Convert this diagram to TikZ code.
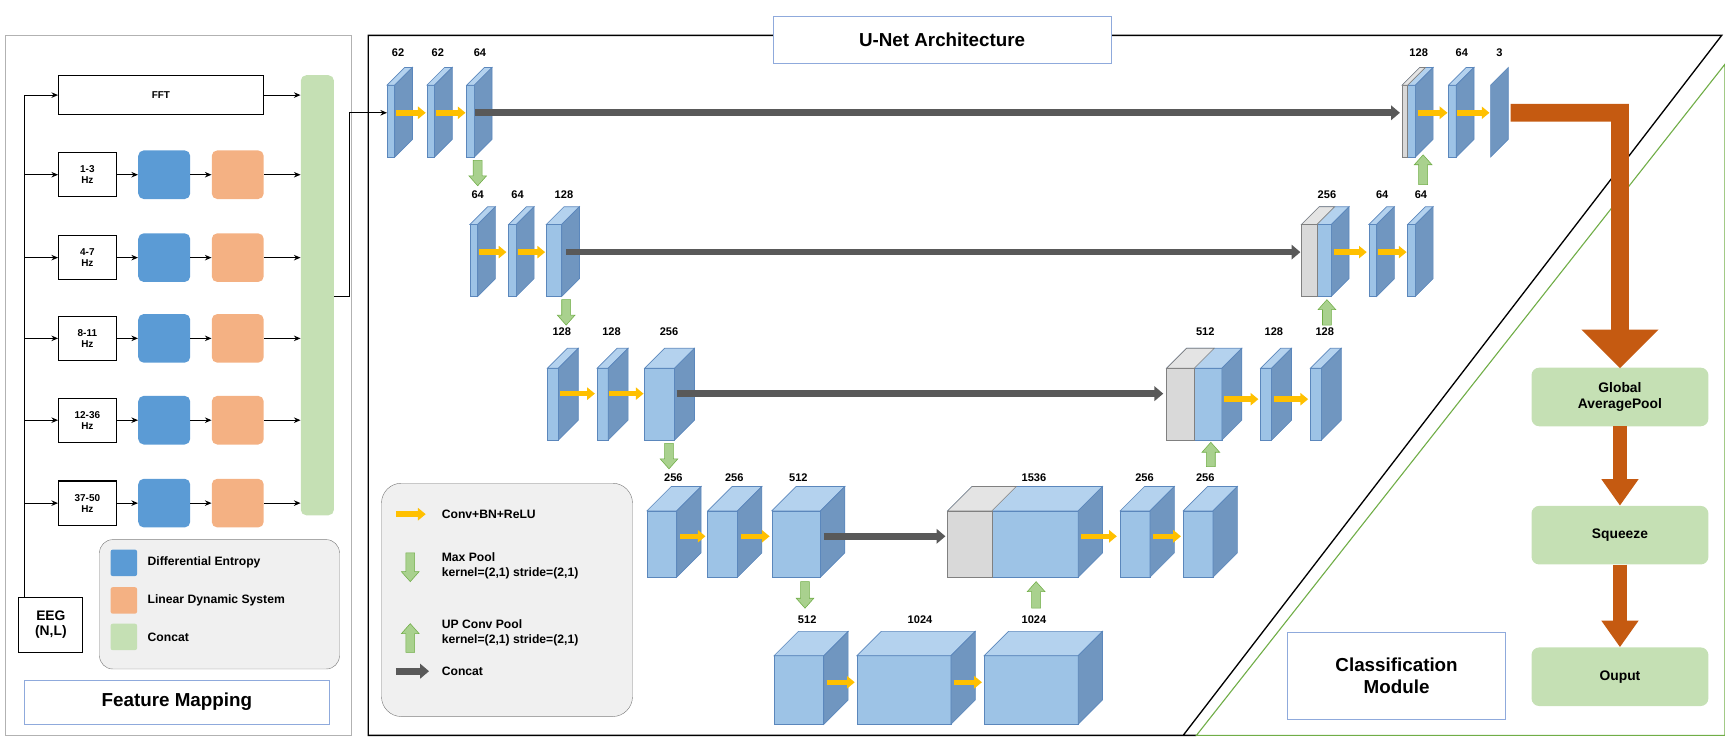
\documentclass[tikz,border=0pt]{standalone}
\usepackage{fontspec}
\setmainfont{Liberation Sans}
\usetikzlibrary{arrows.meta}
\definecolor{fb}{HTML}{9DC3E6}
\definecolor{tb}{HTML}{B4D2EE}
\definecolor{sb}{HTML}{7096C0}
\definecolor{eb}{HTML}{5B87BC}
\definecolor{gr}{HTML}{D9D9D9}
\definecolor{de}{HTML}{5B9BD5}
\definecolor{ld}{HTML}{F4B183}
\definecolor{cg}{HTML}{C5E0B4}
\definecolor{ga}{HTML}{A9D18E}
\definecolor{gae}{HTML}{70AD47}
\definecolor{ye}{HTML}{FFC000}
\definecolor{og}{HTML}{C55A11}
\definecolor{dg}{HTML}{595959}
\definecolor{tbc}{HTML}{8FAADC}
\newcommand\blk[6]{%
 \filldraw[fill=fb,draw=eb,line width=0.6pt] (#1,#2) rectangle ({#1+#3},{#2+#4});
 \filldraw[fill=tb,draw=eb,line width=0.6pt] (#1,#2) -- ++(#5,-#5) -- ++(#3,0) -- ++(-#5,#5) -- cycle;
 \filldraw[fill=sb,draw=eb,line width=0.6pt] ({#1+#3},#2) -- ++(#5,-#5) -- ++(0,#4) -- ++(-#5,#5) -- cycle;
 \ifdim #6pt>0pt
 \filldraw[fill=gr,draw=gray,line width=0.6pt] (#1,#2) rectangle ({#1+#6},{#2+#4});
 \filldraw[fill=gr!70,draw=gray,line width=0.6pt] (#1,#2) -- ++(#5,-#5) -- ++(#6,0) -- ++(-#5,#5) -- cycle;
 \fi}
\newcommand\yarr[3]{\draw[ye,line width=5pt,-{Triangle[length=7pt,width=11pt]}] (#1,#3) -- (#2,#3);}
\newcommand\carr[3]{\draw[dg,line width=6pt,-{Triangle[length=8pt,width=13pt]}] (#1,#3) -- (#2,#3);}
\newcommand\gdn[3]{\filldraw[fill=ga,draw=gae,line width=0.5pt] ({#1-4},#2) -- ({#1+4},#2) -- ({#1+4},{#3-9}) -- ({#1+8},{#3-9}) -- (#1,#3) -- ({#1-8},{#3-9}) -- ({#1-4},{#3-9}) -- cycle;}
\newcommand\gup[3]{\filldraw[fill=ga,draw=gae,line width=0.5pt] ({#1-4},#2) -- ({#1+4},#2) -- ({#1+4},{#3+9}) -- ({#1+8},{#3+9}) -- (#1,#3) -- ({#1-8},{#3+9}) -- ({#1-4},{#3+9}) -- cycle;}
\begin{document}
\begin{tikzpicture}[x=1pt,y=-1pt,
 lab/.style={font=\bfseries\fontsize{10}{11}\selectfont},
 box/.style={draw,line width=1pt,fill=white,font=\bfseries\fontsize{9}{10}\selectfont,align=center,inner sep=0pt},
 rb/.style={rounded corners=5pt,minimum width=47pt,minimum height=44pt,inner sep=0pt},
 ar/.style={-{Stealth[length=6pt,width=5pt]},line width=1pt},
 cls/.style={fill=cg,rounded corners=7pt,minimum width=160pt,minimum height=53pt,align=center,font=\bfseries\fontsize{12.5}{14}\selectfont},
 lt/.style={anchor=west,align=left,font=\bfseries\fontsize{11}{13.5}\selectfont},
 title/.style={draw=tbc,fill=white,font=\bfseries\fontsize{17}{20}\selectfont,align=center,inner sep=0pt}]
\useasboundingbox (0,0) rectangle (1560,668);
% ---------- Feature mapping ----------
\draw[gray!60,line width=1.2pt] (5,32) rectangle (318,665);
\node[title,minimum width=276pt,minimum height=40pt] (fmt) at (160,635) {Feature Mapping};
\node[box,minimum width=185pt,minimum height=35pt] (fft) at (145.5,86) {FFT};
\node[fill=cg,rounded corners=5pt,minimum width=30pt,minimum height=398pt,inner sep=0pt] (cat) at (287,267) {};
\node[box,minimum width=58pt,minimum height=50pt,font=\bfseries\fontsize{12.5}{14}\selectfont] (eeg) at (46,565) {EEG\\(N,L)};
\coordinate (spine) at (22,86);
\draw[line width=1pt] (eeg.north -| 22,0) -- (spine);
\draw[ar] (spine) -- (fft.west);
\draw[ar] (fft.east) -- (fft.east -| cat.west);
\foreach \i/\t/\y in {1/1-3/158,2/4-7/233,3/8-11/306,4/12-36/380,5/37-50/455}{
 \node[box,minimum width=52pt,minimum height=40pt] (hz\i) at (79,\y) {\t\\Hz};
 \node[rb,fill=de] (de\i) at (148.5,\y) {};
 \node[rb,fill=ld] (ld\i) at (215,\y) {};
 \coordinate (s\i) at (22,\y);
 \draw[ar] (s\i) -- (hz\i.west);
 \draw[ar] (hz\i.east) -- (de\i.west);
 \draw[ar] (de\i.east) -- (ld\i.west);
 \draw[ar] (ld\i.east) -- (ld\i.east -| cat.west);
}
\node[draw=gray,fill=gray!12,rounded corners=12pt,minimum width=217pt,minimum height=117pt] (leg1) at (198.5,546.5) {};
\node[fill=de,rounded corners=2pt,minimum size=24pt,inner sep=0pt] (lq1) at (112,509) {};
\node[fill=ld,rounded corners=2pt,minimum size=24pt,inner sep=0pt] (lq2) at (112,543) {};
\node[fill=cg,rounded corners=2pt,minimum size=24pt,inner sep=0pt] (lq3) at (112,576) {};
\node[lt] at (130,509) {Differential Entropy};
\node[lt] at (130,543) {Linear Dynamic System};
\node[lt] at (130,576) {Concat};
% ---------- U-Net frame ----------
\draw[line width=1.2pt] (1082,665) -- (333,665) -- (333,32) -- (1557,32) -- (1070,665);
\draw[gae,line width=1pt] (1082,665) -- (1560,58) -- (1560,665) -- cycle;
\node[title,minimum width=305pt,minimum height=42pt] (ut) at (852,36) {U-Net Architecture};
\coordinate (in) at (350,102);
\draw[ar] (cat.east |- 0,268) -- (316,268) -- (316,102) -- (in);
% row1
\blk{350}{77}{7}{65}{16}{0}\blk{386}{77}{7}{65}{16}{0}\blk{422}{77}{7}{65}{16}{0}
\node[lab] at (360,48) {62};\node[lab] at (396,48) {62};\node[lab] at (434,48) {64};
\yarr{358}{385}{102}\yarr{394}{421}{102}
\carr{430}{1266}{102}
\blk{1268}{77}{12}{65}{16}{5}\blk{1310}{77}{7}{65}{16}{0}
\filldraw[fill=sb,draw=eb,line width=0.6pt] (1348,77) -- ++(16,-16) -- ++(0,65) -- ++(-16,16) -- cycle;
\node[lab] at (1283,48) {128};\node[lab] at (1322,48) {64};\node[lab] at (1356,48) {3};
\yarr{1282}{1309}{102}\yarr{1318}{1347}{102}
\gdn{432}{145}{168}
\gup{1287}{167}{140}
% row2
\blk{425}{203}{7}{65}{16}{0}\blk{460}{203}{7}{65}{16}{0}\blk{494}{203}{14}{65}{16}{0}
\node[lab] at (432,176) {64};\node[lab] at (468,176) {64};\node[lab] at (510,176) {128};
\yarr{433}{458}{228}\yarr{468}{493}{228}
\carr{512}{1176}{228}
\blk{1177}{203}{27}{65}{16}{14}\blk{1238}{203}{7}{65}{16}{0}\blk{1273}{203}{7}{65}{16}{0}
\node[lab] at (1200,176) {256};\node[lab] at (1250,176) {64};\node[lab] at (1285,176) {64};
\yarr{1206}{1236}{228}\yarr{1246}{1272}{228}
\gdn{512}{271}{294}
\gup{1200}{294}{271}
% row3
\blk{495}{333}{10}{65}{18}{0}\blk{540}{333}{10}{65}{18}{0}\blk{583}{333}{27}{65}{18}{0}
\node[lab] at (508,300) {128};\node[lab] at (553,300) {128};\node[lab] at (605,300) {256};
\yarr{506}{538}{356}\yarr{551}{582}{356}
\carr{612}{1052}{356}
\blk{1055}{333}{50}{65}{18}{25}\blk{1140}{333}{10}{65}{18}{0}\blk{1185}{333}{10}{65}{18}{0}
\node[lab] at (1090,300) {512};\node[lab] at (1152,300) {128};\node[lab] at (1198,300) {128};
\yarr{1107}{1138}{361}\yarr{1152}{1183}{361}
\gdn{605}{401}{424}
\gup{1095}{422}{400}
% row4
\blk{585}{462}{27}{60}{22}{0}\blk{640}{462}{27}{60}{22}{0}\blk{698}{462}{44}{60}{22}{0}
\node[lab] at (609,432) {256};\node[lab] at (664,432) {256};\node[lab] at (722,432) {512};
\yarr{615}{638}{485}\yarr{670}{696}{485}
\carr{745}{855}{485}
\blk{857}{462}{118}{60}{22}{40}\blk{1013}{462}{27}{60}{22}{0}\blk{1070}{462}{27}{60}{22}{0}
\node[lab] at (935,432) {1536};\node[lab] at (1035,432) {256};\node[lab] at (1090,432) {256};
\yarr{978}{1010}{485}\yarr{1043}{1068}{485}
\gdn{728}{526}{550}
\gup{937}{550}{526}
% row5
\blk{700}{593}{45}{62}{22}{0}\blk{775}{593}{85}{62}{22}{0}\blk{890}{593}{85}{62}{22}{0}
\node[lab] at (730,560) {512};\node[lab] at (832,560) {1024};\node[lab] at (935,560) {1024};
\yarr{748}{773}{617}\yarr{863}{888}{617}
% legend
\node[draw=gray,fill=gray!12,rounded corners=18pt,minimum width=227pt,minimum height=211pt] (leg2) at (458.5,542.5) {};
\yarr{358}{385}{465}
\gdn{371}{500}{526}
\gup{371}{590}{564}
\carr{358}{388}{607}
\node[lt] at (396,465) {Conv+BN+ReLU};
\node[lt] at (396,512) {Max Pool\\kernel=(2,1) stride=(2,1)};
\node[lt] at (396,572) {UP Conv Pool\\kernel=(2,1) stride=(2,1)};
\node[lt] at (396,607) {Concat};
% ---------- classification ----------
\node[title,minimum width=197pt,minimum height=78pt] (cm) at (1263,611) {Classification\\Module};
\node[cls] (gap) at (1465,359) {Global\\AveragePool};
\node[cls] (sq) at (1465,484) {Squeeze};
\node[cls] (op) at (1465,612) {Ouput};
\fill[og] (1366,94) -- (1473,94) -- (1473,298) -- (1500,298) -- (1465,333) -- (1430,298) -- (1457,298) -- (1457,110) -- (1366,110) -- cycle;
\draw[og,line width=12pt,-{Triangle[length=24pt,width=32pt]}] (gap.south) -- (sq.north);
\draw[og,line width=12pt,-{Triangle[length=24pt,width=32pt]}] (sq.south) -- (op.north);
\end{tikzpicture}
\end{document}
